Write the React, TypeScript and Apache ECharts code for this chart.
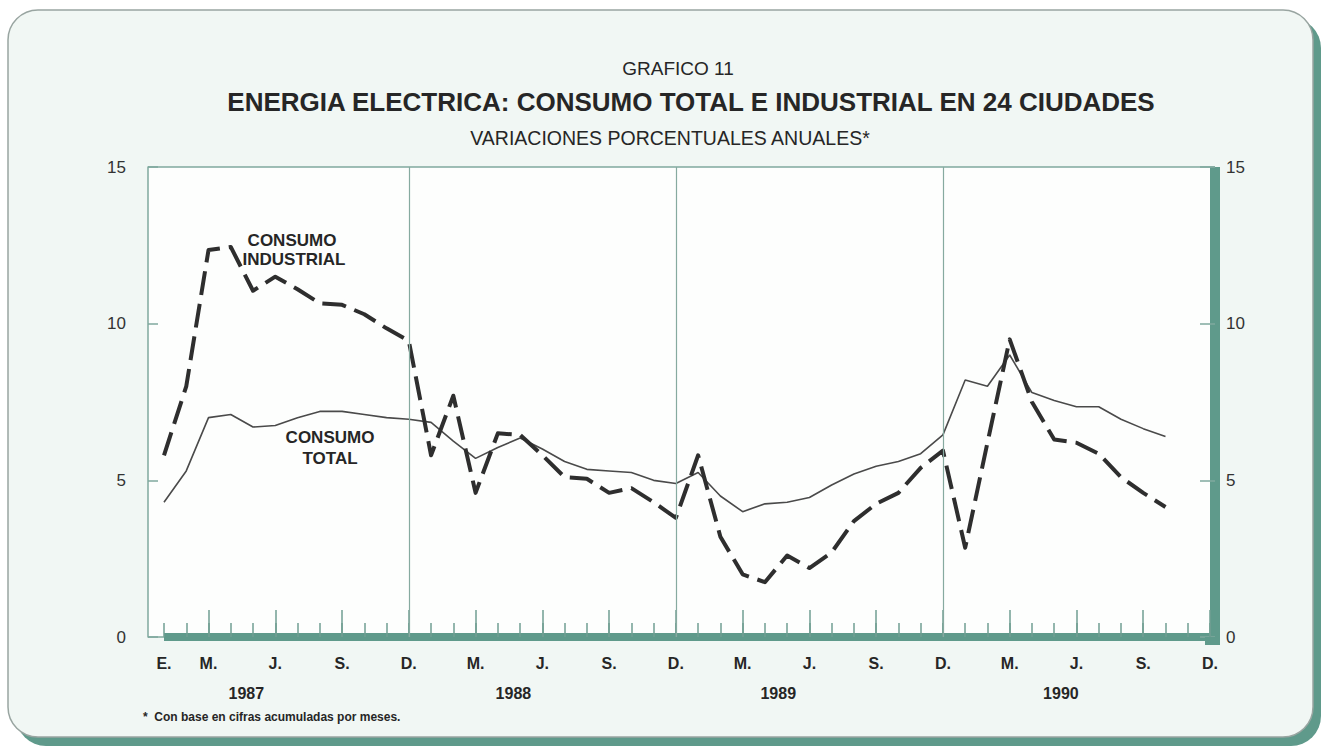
import React, { useEffect, useRef } from 'react';
import * as echarts from 'echarts';

// ---- data ----
const years = ['1987', '1988', '1989', '1990'];
const monthCodes = ['01', '02', '03', '04', '05', '06', '07', '08', '09', '10', '11', '12'];
const monthLetters = ['E.', '', 'M.', '', '', 'J.', '', '', 'S.', '', '', 'D.'];
const categories = years.flatMap((y) => monthCodes.map((m) => `${y}-${m}`));
const tickLabels = years.flatMap((y, yi) => monthLetters.map((m, mi) => (yi > 0 && mi === 0 ? '' : m)));
const longTickMonths = [2, 5, 8, 11];
const yearSeparators = ['1987-12', '1988-12', '1989-12'];
const yearLabelPos = [3.7, 15.7, 27.6, 40.3];

const industrial = [
  5.8, 8.0, 12.35, 12.45, 11.05, 11.5, 11.1, 10.65, 10.6, 10.3, 9.85, 9.45,
  5.8, 7.7, 4.6, 6.5, 6.45, 5.8, 5.1, 5.05, 4.6, 4.75, 4.3, 3.8,
  5.8, 3.2, 2.0, 1.75, 2.6, 2.2, 2.7, 3.7, 4.25, 4.6, 5.4, 5.95,
  2.85, 6.2, 9.5, 7.5, 6.3, 6.2, 5.85, 5.1, 4.6, 4.15, null, null,
];
const total = [
  4.3, 5.3, 7.0, 7.1, 6.7, 6.75, 7.0, 7.2, 7.2, 7.1, 7.0, 6.95,
  6.85, 6.25, 5.7, 6.05, 6.35, 6.0, 5.6, 5.35, 5.3, 5.25, 5.0, 4.9,
  5.25, 4.5, 4.0, 4.25, 4.3, 4.45, 4.85, 5.2, 5.45, 5.6, 5.85, 6.45,
  8.2, 8.0, 9.0, 7.8, 7.55, 7.35, 7.35, 6.95, 6.65, 6.4, null, null,
];

// ---- layout ----
const W = 1321;
const H = 746;
const G_LEFT = 164;
const G_RIGHT = 1210;
const G_TOP = 167;
const G_BOTTOM = 637;
const FRAME_LEFT = 148;
const TEAL = '#5f9a8b';
const FRAME = '#7fa89e';
const INK = '#262626';
const FONT = '"Liberation Sans", Arial, Helvetica, sans-serif';

export default function App() {
  const ref = useRef<HTMLDivElement>(null);

  useEffect(() => {
    if (!ref.current) return;
    const chart = echarts.init(ref.current, undefined, { renderer: 'svg' });
    const step = (G_RIGHT - G_LEFT) / (categories.length - 1);

    const txt = (text: string, x: number, y: number, font: string, align = 'center') => ({
      type: 'text',
      z: 100,
      style: {
        text,
        x,
        y,
        font,
        fill: INK,
        align,
        verticalAlign: 'middle',
        textAlign: align,
        textVerticalAlign: 'middle',
      },
    });

    chart.setOption({
      animation: false,
      grid: {
        left: G_LEFT,
        right: W - G_RIGHT,
        top: G_TOP,
        bottom: H - G_BOTTOM,
        show: false,
      },
      xAxis: [
        {
          type: 'category',
          data: categories,
          boundaryGap: false,
          position: 'bottom',
          offset: 4,
          axisLine: { show: true, lineStyle: { color: TEAL, width: 8, cap: 'butt' } },
          axisTick: {
            show: true,
            inside: true,
            length: 14,
            interval: 0,
            lineStyle: { color: '#6f9e92', width: 1.5 },
          },
          axisLabel: {
            show: true,
            interval: 0,
            margin: 14,
            color: INK,
            fontFamily: FONT,
            fontWeight: 'bold',
            fontSize: 16,
            formatter: (_v: string, i: number) => tickLabels[i],
          },
          splitLine: { show: false },
        },
        {
          type: 'category',
          data: categories,
          boundaryGap: false,
          position: 'bottom',
          offset: 4,
          axisLine: { show: false },
          axisTick: {
            show: true,
            inside: true,
            length: 27,
            interval: (i: number) => longTickMonths.includes(i % 12),
            lineStyle: { color: '#6f9e92', width: 1.5 },
          },
          axisLabel: { show: false },
          splitLine: { show: false },
        },
      ],
      yAxis: [
        {
          type: 'value',
          position: 'left',
          offset: G_LEFT - FRAME_LEFT,
          min: 0,
          max: 15,
          interval: 5,
          axisLine: { show: true, lineStyle: { color: FRAME, width: 1.5 } },
          axisTick: { show: true, inside: true, length: 10, lineStyle: { color: FRAME, width: 1.5 } },
          axisLabel: { margin: 22, color: '#333', fontFamily: FONT, fontSize: 17 },
          splitLine: { show: false },
        },
        {
          type: 'value',
          position: 'right',
          offset: 5,
          min: 0,
          max: 15,
          interval: 5,
          axisLine: { show: true, lineStyle: { color: TEAL, width: 10, cap: 'butt' } },
          axisTick: { show: true, inside: true, length: 15, lineStyle: { color: FRAME, width: 1.5 } },
          axisLabel: { margin: 11, color: '#333', fontFamily: FONT, fontSize: 17 },
          splitLine: { show: false },
        },
      ],
      series: [
        {
          type: 'line',
          data: total,
          z: 1,
          silent: true,
          showSymbol: false,
          lineStyle: { width: 0, opacity: 0 },
          markLine: {
            silent: true,
            symbol: ['none', 'none'],
            label: { show: false },
            lineStyle: { color: '#86aaa0', width: 1.2, type: 'solid' },
            data: yearSeparators.map((c) => ({ xAxis: c })),
          },
        },
        {
          type: 'line',
          data: industrial,
          z: 2,
          silent: true,
          showSymbol: false,
          lineStyle: { color: '#fdfefd', width: 12, cap: 'round', join: 'round' },
        },
        {
          type: 'line',
          data: total,
          z: 2,
          silent: true,
          showSymbol: false,
          lineStyle: { color: '#fdfefd', width: 8, cap: 'round', join: 'round' },
        },
        {
          name: 'CONSUMO TOTAL',
          type: 'line',
          data: total,
          z: 3,
          showSymbol: false,
          lineStyle: { color: '#4a4a4a', width: 1.6 },
        },
        {
          name: 'CONSUMO INDUSTRIAL',
          type: 'line',
          data: industrial,
          z: 4,
          showSymbol: false,
          lineStyle: { color: '#2e2e2e', width: 4, type: [24, 9], cap: 'butt', join: 'round' },
        },
      ],
      graphic: [
        {
          type: 'rect',
          z: -100,
          shape: { x: 16, y: 18, width: W - 16, height: H - 18, r: 30 },
          style: { fill: TEAL },
        },
        {
          type: 'rect',
          z: -99,
          shape: { x: 8, y: 10, width: 1305, height: 727, r: 30 },
          style: { fill: '#f1f7f4', stroke: '#99a5a1', lineWidth: 1.5 },
        },
        {
          type: 'rect',
          z: -98,
          shape: { x: FRAME_LEFT, y: G_TOP, width: G_RIGHT - FRAME_LEFT, height: G_BOTTOM - G_TOP },
          style: { fill: '#fdfefd' },
        },
        {
          type: 'line',
          z: 5,
          shape: { x1: FRAME_LEFT, y1: G_TOP, x2: G_RIGHT + 5, y2: G_TOP },
          style: { stroke: FRAME, lineWidth: 1.5 },
        },
        {
          type: 'line',
          z: 5,
          shape: { x1: FRAME_LEFT, y1: G_BOTTOM, x2: G_LEFT, y2: G_BOTTOM },
          style: { stroke: FRAME, lineWidth: 1.5 },
        },
        {
          type: 'rect',
          z: 5,
          shape: { x: G_RIGHT - 5, y: G_BOTTOM, width: 15, height: 8 },
          style: { fill: TEAL },
        },
        txt('GRAFICO 11', 678, 68, `19px ${FONT}`),
        txt('ENERGIA ELECTRICA: CONSUMO TOTAL E INDUSTRIAL EN 24 CIUDADES', 691, 102, `bold 26px ${FONT}`),
        txt('VARIACIONES PORCENTUALES ANUALES*', 670, 138, `19.5px ${FONT}`),
        txt('CONSUMO', 292, 240, `bold 17px ${FONT}`),
        txt('INDUSTRIAL', 294, 259, `bold 17px ${FONT}`),
        txt('CONSUMO', 330, 437, `bold 17px ${FONT}`),
        txt('TOTAL', 330, 458, `bold 17px ${FONT}`),
        ...years.map((y, i) => txt(y, G_LEFT + yearLabelPos[i] * step, 693, `bold 16px ${FONT}`)),
        txt('*  Con base en cifras acumuladas por meses.', 143, 717, `bold 12px ${FONT}`, 'left'),
      ],
    });

    return () => chart.dispose();
  }, []);

  return (
    <div
      ref={ref}
      style={{ position: 'absolute', left: 0, top: 0, width: W, height: H }}
    />
  );
}
